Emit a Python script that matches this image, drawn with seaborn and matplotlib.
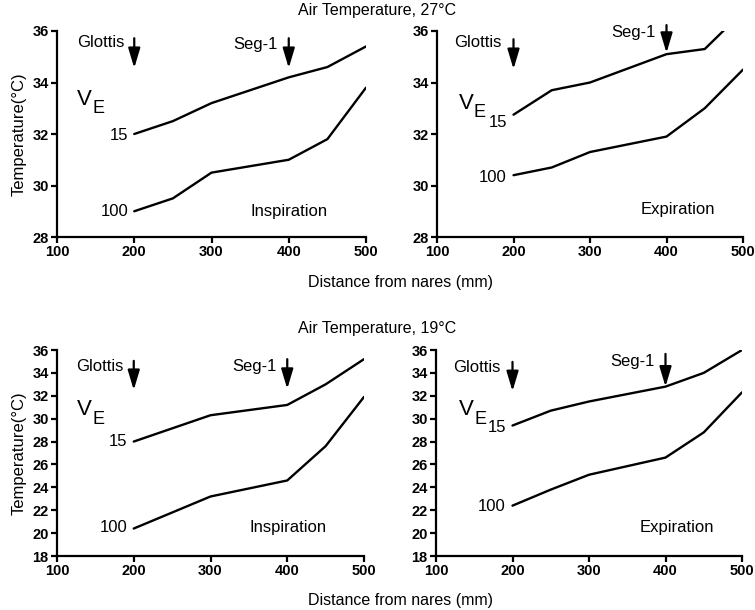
import matplotlib
matplotlib.use("Agg")
import matplotlib.pyplot as plt
import seaborn as sns
import pandas as pd

# ---------------- data ----------------
distance_6 = [200, 250, 300, 400, 450, 500]
distance_5 = [200, 300, 400, 450, 500]

t27_insp_15 = [32.0, 32.5, 33.2, 34.2, 34.6, 35.4]
t27_insp_100 = [29.0, 29.5, 30.5, 31.0, 31.8, 33.8]
t27_exp_15 = [32.75, 33.7, 34.0, 35.1, 35.3, 36.75]
t27_exp_100 = [30.4, 30.7, 31.3, 31.9, 33.0, 34.5]
t19_insp_15 = [28.0, 30.3, 31.2, 33.0, 35.2]
t19_insp_100 = [20.4, 23.2, 24.6, 27.6, 31.9]
t19_exp_15 = [29.4, 30.7, 31.5, 32.8, 34.0, 36.0]
t19_exp_100 = [22.4, 23.8, 25.1, 26.6, 28.8, 32.3]

x_ticks = [100, 200, 300, 400, 500]
y_ticks_27 = [28, 30, 32, 34, 36]
y_ticks_19 = [18, 20, 22, 24, 26, 28, 30, 32, 34, 36]
titles = ["Air Temperature, 27°C", "Air Temperature, 19°C"]
phases = ["Inspiration", "Expiration"]
ve_labels = ["15", "100"]
xlabel = "Distance from nares (mm)"
ylabel = "Temperature(°C)"

# ---------------- style ----------------
sns.set_style("ticks")
plt.rcParams["font.family"] = ["Liberation Sans", "DejaVu Sans"]
plt.rcParams["text.color"] = "black"
plt.rcParams["axes.labelcolor"] = "black"

fig = plt.figure(figsize=(7.55, 6.10), dpi=100)
W, H = 755.0, 610.0


def ax_at(l, r, t, b):
    return fig.add_axes([l / W, 1 - b / H, (r - l) / W, (b - t) / H])


panels = [
    dict(box=(57, 366, 31, 237), x15=distance_6, y15=t27_insp_15, x100=distance_6, y100=t27_insp_100,
         ylim=(28, 36), yt=y_ticks_27, phase=0, ylab=True,
         glottis=(187, 35.55, 35.72, 34.56), seg=(386, 35.46, 35.72, 34.56),
         ve=(126, 33.13), l15=(192, 31.96), l100=(192, 29.0), ptxt=(401, 29.0)),
    dict(box=(437, 743, 31, 237), x15=distance_6, y15=t27_exp_15, x100=distance_6, y100=t27_exp_100,
         ylim=(28, 36), yt=y_ticks_27, phase=1, ylab=False,
         glottis=(184, 35.55, 35.68, 34.52), seg=(386, 35.96, 36.23, 35.15),
         ve=(128, 32.97), l15=(191.5, 32.45), l100=(191.5, 30.33), ptxt=(415, 29.05)),
    dict(box=(57, 364, 350, 556), x15=distance_5, y15=t19_insp_15, x100=distance_5, y100=t19_insp_100,
         ylim=(18, 36), yt=y_ticks_19, phase=0, ylab=True,
         glottis=(187, 34.6, 35.05, 32.5), seg=(386, 34.6, 35.2, 32.6),
         ve=(126, 30.3), l15=(192, 28.0), l100=(192, 20.45), ptxt=(401, 20.5)),
    dict(box=(436, 742, 350, 556), x15=distance_6, y15=t19_exp_15, x100=distance_6, y100=t19_exp_100,
         ylim=(18, 36), yt=y_ticks_19, phase=1, ylab=False,
         glottis=(184, 34.5, 34.96, 32.4), seg=(386, 34.96, 35.66, 32.8),
         ve=(130, 30.3), l15=(191.5, 29.2), l100=(191.5, 22.3), ptxt=(415, 20.5)),
]

arrow_props = dict(arrowstyle="-|>,head_width=0.36,head_length=1.2", color="black", lw=1.6,
                   shrinkA=0, shrinkB=0, mutation_scale=10)

for p in panels:
    ax = ax_at(*p["box"])
    df = pd.DataFrame({
        "x": list(p["x15"]) + list(p["x100"]),
        "y": list(p["y15"]) + list(p["y100"]),
        "ve": [ve_labels[0]] * len(p["x15"]) + [ve_labels[1]] * len(p["x100"]),
    })
    sns.lineplot(data=df, x="x", y="y", units="ve", estimator=None, color="black",
                 linewidth=1.7, ax=ax, legend=False)
    ax.set_xlim(100, 500)
    ax.set_ylim(*p["ylim"])
    ax.set_xticks(x_ticks)
    ax.set_yticks(p["yt"])
    ax.set_xlabel("")
    ax.set_ylabel("")
    sns.despine(ax=ax)
    for s in ("left", "bottom"):
        ax.spines[s].set_linewidth(1.6)
        ax.spines[s].set_color("black")
    ax.tick_params(direction="out", length=4, width=1.6, colors="black", labelsize=10.5, pad=2)
    for lbl in ax.get_xticklabels() + ax.get_yticklabels():
        lbl.set_fontweight("bold")
    if p["ylab"]:
        ax.set_ylabel(ylabel, fontsize=12, labelpad=4)

    gx, gy, gt, gb = p["glottis"]
    ax.text(gx, gy, "Glottis", ha="right", va="center", fontsize=12)
    ax.annotate("", xy=(200, gb), xytext=(200, gt), arrowprops=arrow_props, annotation_clip=False)
    sx, sy, st, sb = p["seg"]
    ax.text(sx, sy, "Seg-1", ha="right", va="center", fontsize=12, clip_on=False)
    ax.annotate("", xy=(400, sb), xytext=(400, st), arrowprops=arrow_props, annotation_clip=False)

    vx, vy = p["ve"]
    ax.text(vx, vy, "V", ha="left", va="baseline", fontsize=16)
    ax.annotate("E", xy=(vx, vy), xytext=(11, -6), textcoords="offset points",
                ha="left", va="baseline", fontsize=13)

    ax.text(*p["l15"], ve_labels[0], ha="right", va="center", fontsize=12)
    ax.text(*p["l100"], ve_labels[1], ha="right", va="center", fontsize=12)
    ax.text(*p["ptxt"], phases[p["phase"]], ha="center", va="center", fontsize=12)

fig.text(377 / W, 1 - 10 / H, titles[0], ha="center", va="center", fontsize=11.5)
fig.text(400 / W, 1 - 283 / H, xlabel, ha="center", va="center", fontsize=11.5)
fig.text(377 / W, 1 - 328 / H, titles[1], ha="center", va="center", fontsize=11.5)
fig.text(400 / W, 1 - 600 / H, xlabel, ha="center", va="center", fontsize=11.5)

fig.savefig("out.png", dpi=100)
